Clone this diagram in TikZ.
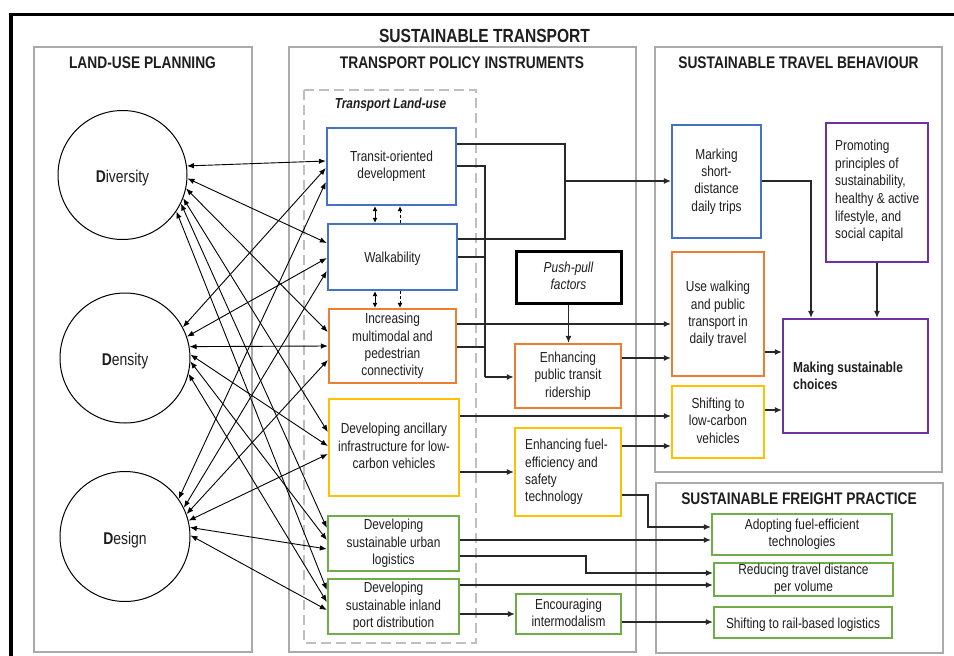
\documentclass[tikz,border=0pt]{standalone}
\usepackage{fontspec}
\setmainfont{Liberation Sans}[FakeStretch=0.82]
\usetikzlibrary{arrows.meta,calc}
\definecolor{cblue}{RGB}{68,114,196}
\definecolor{corange}{RGB}{237,125,49}
\definecolor{cyellow}{RGB}{255,192,0}
\definecolor{cgreen}{RGB}{112,173,71}
\definecolor{cpurple}{RGB}{112,48,160}
\definecolor{cpanel}{RGB}{170,170,170}
\definecolor{cdash}{RGB}{191,191,191}
\definecolor{cline}{RGB}{40,40,40}
\definecolor{ctext}{RGB}{30,30,30}
\begin{document}
\begin{tikzpicture}[x=1pt,y=-1pt,
  every node/.style={text=ctext,font=\fontsize{14.5}{17.4}\selectfont},
  tfix/.style={execute at begin node={\rule{0pt}{15pt}},execute at end node={\rule[-3pt]{0pt}{0pt}}},
  cfix/.style={execute at begin node={\rule{0pt}{19pt}},execute at end node={\rule[-3pt]{0pt}{0pt}}},
  panel/.style={draw=cpanel,line width=2.5pt},
  ptitle/.style={anchor=base,font=\fontsize{16.8}{19}\selectfont\bfseries},
  box/.style={draw,line width=2.3pt,fill=white,inner sep=0pt,align=center,tfix},
  btext/.style={anchor=west,align=left,inner sep=0pt,tfix},
  circ/.style={draw=black,line width=1pt,circle,inner sep=0pt,cfix,font=\fontsize{17}{20}\selectfont},
  conn/.style={draw=cline,line width=1.1pt},
  arr/.style={conn,-{Latex[length=7pt,width=6pt]}},
  darr/.style={draw=black,line width=0.9pt,{Latex[length=7pt,width=5.5pt]}-{Latex[length=7pt,width=5.5pt]}},
  sarr/.style={draw=black,line width=0.9pt,-{Latex[length=5pt,width=5pt]}},
  sdarr/.style={draw=black,line width=0.9pt,{Latex[length=5pt,width=5pt]}-{Latex[length=5pt,width=5pt]}},
]
\useasboundingbox (0,0) rectangle (954,656);
\clip (0,0) rectangle (954,656);
% outer frame
\draw[line width=3.4pt,black] (11,14.3) rectangle (1000,700);
\node[anchor=base,font=\fontsize{19}{22}\selectfont\bfseries] (ttl) at (484.5,42) {SUSTAINABLE TRANSPORT};
% panels
\draw[panel] (34,47) rectangle (252,652);
\draw[panel] (289,47) rectangle (636,652);
\draw[panel] (655,47) rectangle (942,472);
\draw[panel] (656,483) rectangle (943,653);
\node[ptitle] (t1) at (142.5,68) {LAND-USE PLANNING};
\node[ptitle] (t2) at (462,68) {TRANSPORT POLICY INSTRUMENTS};
\node[ptitle] (t3) at (798.5,68) {SUSTAINABLE TRAVEL BEHAVIOUR};
\node[ptitle] (t4) at (799,504) {SUSTAINABLE FREIGHT PRACTICE};
% dashed group
\draw[draw=cdash,line width=2pt,dash pattern=on 10pt off 5pt] (304,90) rectangle (476,643);
\node[anchor=base,font=\fontsize{14.5}{17}\selectfont\bfseries\itshape] (tlu) at (390.5,108) {Transport Land-use};
% circles
\node[circ,minimum size=129pt] (div) at (122.5,175) {\textbf{D}iversity};
\node[circ,minimum size=130pt] (den) at (125,358) {\textbf{D}ensity};
\node[circ,minimum size=130pt] (des) at (125,536.5) {\textbf{D}esign};
% policy boxes
\node[box,draw=cblue,minimum width=129pt,minimum height=77pt] (tod) at (391.5,166.5) {Transit-oriented\\development};
\node[box,draw=cblue,minimum width=129pt,minimum height=66pt] (walk) at (392.5,257) {Walkability};
\node[box,draw=corange,minimum width=127pt,minimum height=74pt] (multi) at (392.5,346) {Increasing\\multimodal and\\pedestrian\\connectivity};
\node[box,draw=cyellow,minimum width=130pt,minimum height=97pt] (anc) at (394,447.5) {Developing ancillary\\infrastructure for low-\\carbon vehicles};
\node[box,draw=cgreen,minimum width=131pt,minimum height=55pt] (urb) at (393.5,543.5) {Developing\\sustainable urban\\logistics};
\node[box,draw=cgreen,minimum width=131pt,minimum height=55pt] (inl) at (393.5,606.5) {Developing\\sustainable inland\\port distribution};
\node[box,draw=black,line width=3pt,minimum width=105pt,minimum height=52pt,font=\fontsize{14.5}{17.4}\selectfont\itshape] (push) at (568.5,277) {Push-pull\\factors};
\node[box,draw=corange,minimum width=106pt,minimum height=64pt] (ept) at (568,376) {Enhancing\\public transit\\ridership};
\node[box,draw=cyellow,minimum width=106pt,minimum height=88pt] (efe) at (568,472) {};
\node[btext] (efet) at (525,472) {Enhancing fuel-\\efficiency and\\safety\\technology};
\node[box,draw=cgreen,minimum width=105pt,minimum height=40pt] (eim) at (568.5,614) {Encouraging\\intermodalism};
% behaviour boxes
\node[box,draw=cblue,minimum width=89pt,minimum height=113pt] (msd) at (716.5,181.5) {Marking\\short-\\distance\\daily trips};
\node[box,draw=corange,minimum width=92pt,minimum height=124pt] (uwp) at (718,314) {Use walking\\and public\\transport in\\daily travel};
\node[box,draw=cyellow,minimum width=92pt,minimum height=72pt] (slc) at (718,422) {Shifting to\\low-carbon\\vehicles};
\node[box,draw=cpurple,minimum width=102pt,minimum height=139pt] (ppr) at (877,192.5) {};
\node[btext,font=\fontsize{14.5}{17.6}\selectfont] (pprt) at (835,191) {Promoting\\principles of\\sustainability,\\healthy \& active\\lifestyle, and\\social capital};
\node[box,draw=cpurple,minimum width=145pt,minimum height=114pt] (msc) at (855.5,376) {};
\node[btext,font=\fontsize{14.5}{17.4}\selectfont\bfseries] (msct) at (793,377) {Making sustainable\\choices};
% freight boxes
\node[box,draw=cgreen,minimum width=180pt,minimum height=41pt] (afe) at (802,534.5) {Adopting fuel-efficient\\technologies};
\node[box,draw=cgreen,minimum width=179pt,minimum height=33pt] (rtd) at (803.5,579.5) {Reducing travel distance\\per volume};
\node[box,draw=cgreen,minimum width=178pt,minimum height=31pt] (srl) at (803,622.5) {Shifting to rail-based logistics};
% circle links
\draw[darr] (div.8) -- (tod.west|-0,161);
\draw[darr] (div.-3) -- (walk.west|-0,243);
\draw[darr] (div.-12.5) -- (multi.west|-0,332);
\draw[darr] (div.-21) -- (anc.west|-0,432);
\draw[darr] (div.-26) -- (urb.west|-0,528);
\draw[darr] (div.-34) -- (inl.west|-0,590);
\draw[darr] (den.28) -- (tod.west|-0,168);
\draw[darr] (den.19.5) -- (walk.west|-0,258);
\draw[darr] (den.10.5) -- (multi.west|-0,346);
\draw[darr] (den.3.4) -- (anc.west|-0,446);
\draw[darr] (den.-3.5) -- (urb.west|-0,540);
\draw[darr] (den.-14.7) -- (inl.west|-0,602);
\draw[darr] (des.35) -- (tod.west|-0,182);
\draw[darr] (des.26) -- (walk.west|-0,271);
\draw[darr] (des.20.5) -- (multi.west|-0,360);
\draw[darr] (des.14) -- (anc.west|-0,454);
\draw[darr] (des.8) -- (urb.west|-0,549);
\draw[darr] (des.1.3) -- (inl.west|-0,610);
% links between TOD / walkability / multimodal
\draw[sdarr] (375,0|-tod.south) -- (375,0|-walk.north);
\draw[sarr,dash pattern=on 3pt off 2pt] (400,0|-walk.north) -- (400,0|-tod.south);
\draw[sdarr] (375,0|-walk.south) -- (375,0|-multi.north);
\draw[sarr,dash pattern=on 3pt off 2pt] (400,0|-walk.south) -- (400,0|-multi.north);
% brackets and links
\coordinate (j1) at (565,181);
\draw[conn] (tod.east|-0,144) -| (j1);
\draw[conn] (walk.east|-0,239) -| (j1);
\draw[arr] (j1) -- (msd.west|-j1);
\coordinate (j2) at (485,377);
\draw[conn] (tod.east|-0,166) -| (j2);
\draw[arr,line width=1.5pt] (j2) -- (ept.west|-j2);
\draw[conn] (walk.east|-0,257) -- (j2|-0,257);
\draw[conn] (multi.east|-0,347) -- (j2|-0,347);
\draw[arr] (multi.east|-0,324) -- (uwp.west|-0,324);
\draw[arr] (push.south) -- (push.south|-ept.north);
\draw[arr] (ept.east|-0,358) -- (uwp.west|-0,358);
\draw[arr] (anc.east|-0,416) -- (slc.west|-0,416);
\draw[arr] (anc.east|-0,472) -- (efe.west|-0,472);
\draw[arr] (efe.east|-0,446) -- (slc.west|-0,446);
\coordinate (j3) at (648,527);
\draw[arr] (efe.east|-0,495) -| (j3) -- (afe.west|-j3);
\draw[arr] (urb.east|-0,540) -- (afe.west|-0,540);
\coordinate (j4) at (586,573);
\draw[arr] (urb.east|-0,556) -| (j4) -- (rtd.west|-j4);
\draw[arr] (inl.east|-0,585) -- (rtd.west|-0,585);
\draw[arr] (inl.east|-0,614) -- (eim.west|-0,614);
\draw[arr] (eim.east|-0,622) -- (srl.west|-0,622);
\coordinate (j5) at (811,181);
\draw[arr] (msd.east|-j5) -| (j5|-msc.north);
\draw[arr] (ppr.south) -- (ppr.south|-msc.north);
\draw[arr] (uwp.east|-0,352) -- (msc.west|-0,352);
\draw[arr] (slc.east|-0,410) -- (msc.west|-0,410);
\end{tikzpicture}
\end{document}
